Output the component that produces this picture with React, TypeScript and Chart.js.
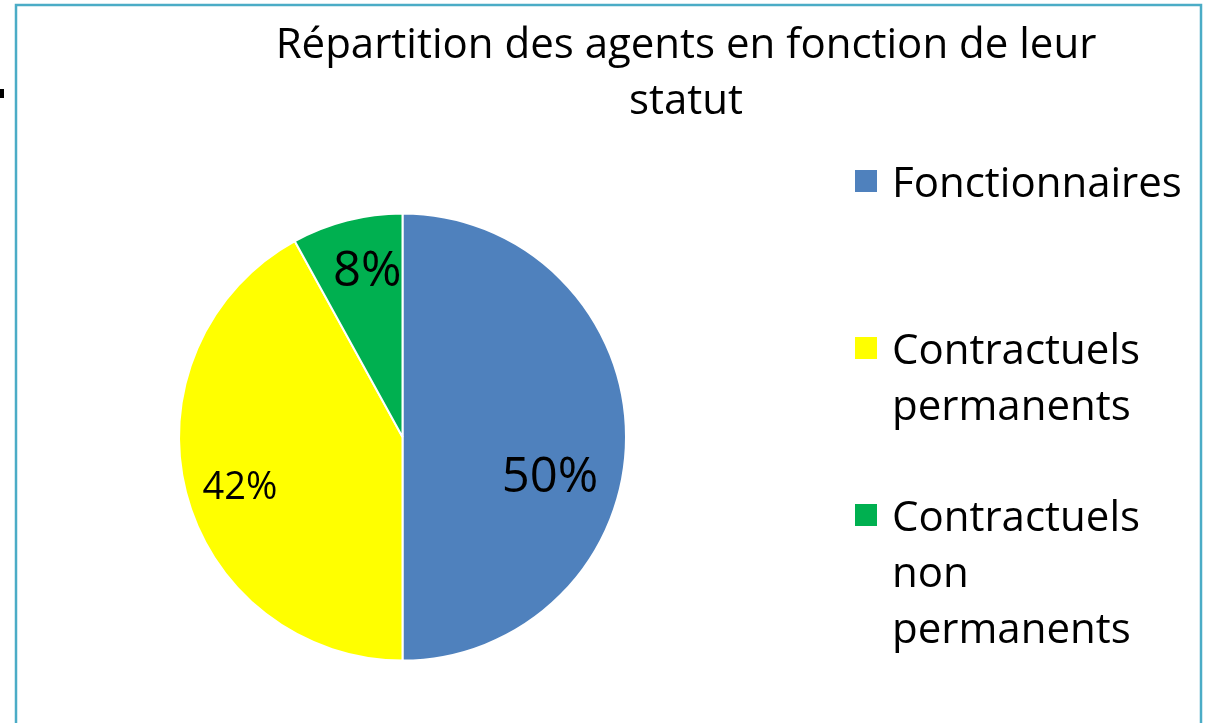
import React, { useEffect, useRef } from "react";
import { Chart, registerables } from "chart.js";

Chart.register(...registerables);

const categories = ["Fonctionnaires", "Contractuels permanents", "Contractuels non permanents"];
const values = [50, 42, 8];
const legendLines = [["Fonctionnaires"], ["Contractuels", "permanents"], ["Contractuels", "non", "permanents"]];
const titleLines = ["Répartition des agents en fonction de leur", "statut"];
const colors = ["#4F81BD", "#FFFF00", "#00B050"];

const FONT = "'Open Sans', 'Noto Sans', sans-serif";
const W = 1212;
const H = 723;

// label placement (style): radial factor, extra offsets, font size
const labelRadial = [0.66, 0.76, 0.76];
const labelDx = [0, 2, 7];
const labelDy = [37, 6, -4];
const labelSize = [49, 38, 49];

const framePlugin = {
  id: "frame",
  beforeDraw(chart: any) {
    const ctx = chart.ctx;
    ctx.save();
    ctx.fillStyle = "#ffffff";
    ctx.fillRect(0, 0, W, H);
    ctx.strokeStyle = "#4BACC6";
    ctx.lineWidth = 2.5;
    ctx.beginPath();
    ctx.moveTo(16, H + 5);
    ctx.lineTo(16, 5);
    ctx.lineTo(1201, 5);
    ctx.lineTo(1201, H + 5);
    ctx.stroke();
    ctx.fillStyle = "#000000";
    ctx.fillRect(0, 89, 4, 9);
    ctx.restore();
  },
};

const textPlugin = {
  id: "texts",
  afterDraw(chart: any) {
    const ctx = chart.ctx;
    ctx.save();
    ctx.fillStyle = "#000000";
    ctx.textBaseline = "alphabetic";
    // title
    ctx.font = `42px ${FONT}`;
    ctx.textAlign = "center";
    titleLines.forEach((t, i) => ctx.fillText(t, 686, 58 + i * 56));
    // legend
    ctx.textAlign = "left";
    const firstBaselines = [197, 364, 531];
    legendLines.forEach((lines, i) => {
      const b = firstBaselines[i];
      ctx.fillStyle = colors[i];
      ctx.fillRect(855, b - 27, 22, 22);
      ctx.fillStyle = "#000000";
      ctx.font = `42px ${FONT}`;
      lines.forEach((l, j) => ctx.fillText(l, 892, b + j * 56));
    });
    // data labels
    const meta = chart.getDatasetMeta(0);
    const total = values.reduce((a, b) => a + b, 0);
    ctx.textAlign = "center";
    meta.data.forEach((arc: any, i: number) => {
      const p = arc.getProps(["x", "y", "startAngle", "endAngle", "outerRadius"], true);
      const mid = (p.startAngle + p.endAngle) / 2;
      const r = p.outerRadius * labelRadial[i];
      const cx = p.x + Math.cos(mid) * r + labelDx[i];
      const cy = p.y + Math.sin(mid) * r + labelDy[i];
      const size = labelSize[i];
      ctx.font = `${size}px ${FONT}`;
      const txt = Math.round((values[i] / total) * 100) + "%";
      ctx.fillText(txt, cx, cy + size * 0.36);
    });
    ctx.restore();
  },
};

export default function App() {
  const ref = useRef<HTMLCanvasElement | null>(null);
  useEffect(() => {
    if (!ref.current) return;
    const chart = new Chart(ref.current, {
      type: "pie",
      data: {
        labels: categories,
        datasets: [
          {
            data: values,
            backgroundColor: colors,
            borderColor: "#ffffff",
            borderWidth: 2,
          },
        ],
      },
      options: {
        responsive: false,
        animation: false,
        layout: { padding: { left: 178, right: 585, top: 212, bottom: 61 } },
        plugins: {
          legend: { display: false },
          title: { display: false },
          tooltip: { enabled: false },
        },
      },
      plugins: [framePlugin, textPlugin],
    });
    return () => chart.destroy();
  }, []);
  return (
    <div style={{ position: "absolute", left: 0, top: 0, width: W, height: H }}>
      <canvas ref={ref} width={W} height={H} style={{ display: "block" }} />
    </div>
  );
}
